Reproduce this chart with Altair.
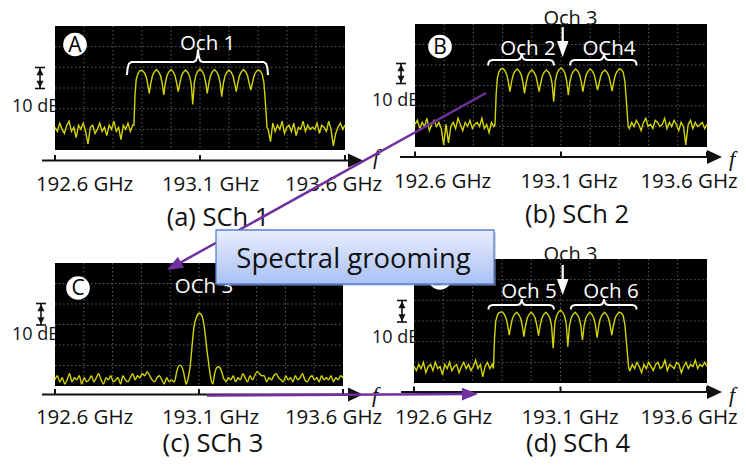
import math
import altair as alt
import pandas as pd
import numpy as np

FONT = "Open Sans"
OFF = 8            # page margin: layout numbers below are page (screenshot) pixels
W, H = 730, 450

# ------------------------------------------------------------------ data
F_MIN, F_MAX = 192.6, 193.6
DB_MIN, DB_MAX = 0.0, 60.0
TICK_F = [192.6, 193.1, 193.6]
TICK_LABELS = ["192.6 GHz", "193.1 GHz", "193.6 GHz"]
GRID_F = [192.7, 192.8, 192.9, 193.0, 193.1, 193.2, 193.3, 193.4, 193.5]
GRID_DB = [10, 20, 30, 40, 50]

PEAK_F = [192.90, 192.95, 193.00, 193.05, 193.10, 193.15, 193.20, 193.25, 193.30]
DIP_F = [192.925, 192.975, 193.025, 193.075, 193.125, 193.175, 193.225, 193.275]
LOBE_OFF = [-0.0195, -0.014, -0.008, 0.008, 0.014, 0.0195]
LOBE_DROP = [6.5, 3.0, 1.2, 1.2, 3.0, 6.5]

# (a) SCh 1
A_NOISE_L = [11, 9, 13, 10, 8, 12, 14, 9, 11, 6, 12, 10, 13, 9, 3, 11, 12, 8, 10, 13, 9, 11, 7, 12, 10, 14, 9, 11, 5, 12, 10, 13, 9, 12]
A_SPAN_L = (192.600, 192.868)
A_EDGE_L_F = [192.872, 192.876, 192.880, 192.886, 192.892]
A_EDGE_L_DB = [12, 27, 34, 37, 38.3]
A_PEAK = [38.6, 38.9, 38.9, 38.7, 39.2, 38.9, 38.7, 38.9, 38.8]
A_DIP = [27.4, 26.6, 28.2, 22.1, 27.4, 25.8, 28.2, 29.0]
A_EDGE_R_F = [193.308, 193.314, 193.320, 193.325, 193.331]
A_EDGE_R_DB = [38.2, 36.8, 33, 24, 11]
A_NOISE_R = [10, 4, 13, 9, 12, 10, 14, 8, 11, 12, 9, 13, 7, 11, 10, 14, 9, 12, 10, 11, 10, 13, 8, 12, 11, 9, 14, 10, 2, 8, 11, 13, 10, 12]
A_SPAN_R = (193.335, 193.600)

# (b) SCh 2
B_NOISE_L = [11, 13, 9, 12, 10, 14, 8, 11, 13, 10, 12, 9, 1, 11, 2, 10, 12, 9, 14, 11, 8, 12, 10, 13, 9, 11, 12, 10, 14, 9, 11, 7, 12, 10]
B_SPAN_L = (192.600, 192.870)
B_EDGE_L_F = [192.874, 192.878, 192.882, 192.887, 192.893]
B_EDGE_L_DB = [11, 26, 33.5, 36.6, 37.9]
B_PEAK = [38.4, 38.1, 37.6, 37.6, 38.7, 38.1, 38.1, 37.6, 38.1]
B_DIP = [27.0, 26.2, 27.0, 22.1, 25.4, 27.0, 27.8, 27.3]
B_EDGE_R_F = [193.307, 193.313, 193.319, 193.324, 193.330]
B_EDGE_R_DB = [37.6, 36.5, 32, 22, 10]
B_NOISE_R = [9, 12, 10, 13, 11, 8, 12, 14, 10, 11, 9, 13, 12, 10, 11, 14, 9, 12, 10, 13, 11, 8, 12, 10, 1, 11, 13, 9, 12, 10, 11, 12, 9, 11]
B_SPAN_R = (193.334, 193.600)

# (c) SCh 3
C_NOISE_L = [3, 5, 2, 4, 1, 3, 6, 2, 4, 3, 5, 1, 4, 2, 3, 5, 2, 4, 6, 3, 1, 4, 3, 5, 2, 3, 4, 1, 5, 3, 2, 4, 6, 3, 5, 4, 6, 5, 7, 5, 3, 2, 4, 5, 3, 1, 4, 2, 3, 2]
C_SPAN_L = (192.600, 193.013)
C_SIG_F = [193.017, 193.022, 193.028, 193.034, 193.040, 193.046, 193.051, 193.055,
           193.059, 193.064, 193.069, 193.075, 193.080, 193.085, 193.090, 193.096, 193.101,
           193.107, 193.113, 193.117, 193.121, 193.128, 193.135, 193.140, 193.144,
           193.148, 193.153, 193.159, 193.166, 193.173, 193.180, 193.186, 193.190]
C_SIG_DB = [3, 6.5, 9.3, 10.2, 9.5, 7, 3.5, 1,
            2, 5, 9.4, 18, 25.7, 30.5, 33, 35, 35.5,
            35, 33, 30, 25.7, 17, 9.4, 4.5, 2,
            1, 5, 8.3, 9.4, 8.8, 6.5, 3.5, 3]
C_NOISE_R = [2, 4, 3, 5, 2, 4, 3, 6, 4, 2, 5, 3, 5, 7, 6, 5, 5, 2, 4, 3, 5, 6, 4, 3, 2, 5, 3, 4, 2, 5, 3, 4, 6, 3, 2, 4, 5, 3, 4, 2, 5, 3, 4, 3, 5, 2, 4, 3, 5, 4]
C_SPAN_R = (193.194, 193.600)

# (d) SCh 4
D_NOISE_L = [8, 6, 9, 7, 10, 5, 8, 9, 6, 10, 7, 8, 4, 9, 7, 10, 6, 8, 9, 5, 8, 10, 7, 9, 6, 8, 11, 7, 9, 3, 8, 10, 7, 9]
D_SPAN_L = (192.600, 192.867)
D_EDGE_L_F = [192.871, 192.875, 192.879, 192.885, 192.891]
D_EDGE_L_DB = [7, 22, 30, 33, 34.1]
D_PEAK = [34.5, 34.2, 34.2, 34.2, 35.3, 34.2, 34.2, 34.2, 34.2]
D_DIP = [23.2, 22.4, 22.9, 16.8, 17.6, 20.8, 21.9, 23.2]
D_EDGE_R_F = [193.308, 193.314, 193.320, 193.326, 193.333]
D_EDGE_R_DB = [33.8, 32.5, 28, 18, 7]
D_NOISE_R = [6, 9, 7, 10, 8, 5, 9, 7, 10, 8, 6, 9, 10, 7, 8, 11, 6, 9, 8, 7, 10, 9, 5, 8, 10, 7, 9, 8, 11, 7, 9, 8, 10, 8]
D_SPAN_R = (193.337, 193.600)

TITLES = ["(a) SCh 1", "(b) SCh 2", "(c) SCh 3", "(d) SCh 4"]
BADGE_TEXT = ["A", "B", "C", "D"]
IN_LABELS = ["Och 1", "Och 2", "OCh4", "OCh 3", "Och 5", "Och 6"]
TOP_LABELS = ["Och 3", "Och 3"]
SCALE_TEXT = "10 dB"
BOX_TEXT = "Spectral grooming"

# ------------------------------------------------------------------ layout (page px)
PANELS = {
    "A": dict(rect=(55, 26, 345, 150), ay=160.5, ax0=42, tip=363, lab_x=[84.5, 210.5, 333.5], lab_y=190.5,
              title=(218, 226), f=(376, 163.5), tendb=(12, 112), icon=(40, 67.5, 88.5), badge=(75, 44.5)),
    "B": dict(rect=(415, 24, 707, 147), ay=157, ax0=400, tip=722, lab_x=[442.5, 569, 689], lab_y=187.5,
              title=(577, 223), f=(732, 166), tendb=(372, 106), icon=(401, 63.5, 83.5), badge=(440, 46.5)),
    "C": dict(rect=(55, 263, 343, 386), ay=394.5, ax0=42, tip=363, lab_x=[84.5, 210.5, 333.5], lab_y=424,
              title=(213, 451.5), f=(375, 402), tendb=(12, 340), icon=(41, 303.5, 325), badge=(78, 288)),
    "D": dict(rect=(414, 259, 707, 383), ay=392, ax0=401, tip=722, lab_x=[443.5, 570, 689], lab_y=423.5,
              title=(578, 451.5), f=(732, 402), tendb=(372, 343), icon=(402, 300.5, 322), badge=(440, 278)),
}
BRACES = [(127, 268, 198, 62, 75, 49.3), (488, 554, 521.7, 60, 65.5, 53.3), (570, 636.7, 604, 60, 65.5, 53.3),
          (488.3, 554, 521.7, 305, 309.5, 299.3), (570.7, 636.7, 604, 305, 309.5, 299.3)]
IN_LABEL_XY = [(207.6, 50), (528, 55), (609, 55), (204, 293), (529, 298), (611, 298)]
TOP_LABEL_XY = [(570.5, 25), (570.5, 261)]
DOWN_ARROWS = [(562.7, 27, 57), (562.7, 265, 295)]
PURPLE_ARROWS = [((486, 93), (167, 270)), ((207, 395.5), (478, 394))]
BOX = (216, 230, 494, 284)
BOX_TEXT_XY = (353.5, 268)

YEL = "#d4d400"
GRID_C = "#5e5e5e"
PURPLE = "#7030a0"

PX = alt.Scale(domain=[OFF, W + OFF], range=[0, W], nice=False, zero=False)
PY = alt.Scale(domain=[OFF, H + OFF], range=[0, H], nice=False, zero=False)


def pxy():
    return dict(x=alt.X("x:Q", scale=PX, axis=None), y=alt.Y("y:Q", scale=PY, axis=None))


def comb(noise_l, span_l, el_f, el_db, peaks, dips, er_f, er_db, noise_r, span_r):
    f = list(np.linspace(span_l[0], span_l[1], len(noise_l)))
    v = list(noise_l)
    f += el_f
    v += el_db
    n = len(PEAK_F)
    for k in range(n):
        for o, d in zip(LOBE_OFF, LOBE_DROP):
            if (o < 0 and k == 0) or (o > 0 and k == n - 1):
                continue
            f.append(PEAK_F[k] + o)
            v.append(peaks[k] - d)
        f.append(PEAK_F[k])
        v.append(peaks[k])
        if k < n - 1:
            f.append(DIP_F[k])
            v.append(dips[k])
    f += er_f
    v += er_db
    f += list(np.linspace(span_r[0], span_r[1], len(noise_r)))
    v += list(noise_r)
    df = pd.DataFrame({"f": f, "db": v}).sort_values("f").reset_index(drop=True)
    df["i"] = range(len(df))
    return df


def single(noise_l, span_l, sf, sdb, noise_r, span_r):
    f = list(np.linspace(span_l[0], span_l[1], len(noise_l))) + sf + list(np.linspace(span_r[0], span_r[1], len(noise_r)))
    v = list(noise_l) + sdb + list(noise_r)
    df = pd.DataFrame({"f": f, "db": v}).sort_values("f").reset_index(drop=True)
    df["i"] = range(len(df))
    return df


TRACES = {
    "A": comb(A_NOISE_L, A_SPAN_L, A_EDGE_L_F, A_EDGE_L_DB, A_PEAK, A_DIP, A_EDGE_R_F, A_EDGE_R_DB, A_NOISE_R, A_SPAN_R),
    "B": comb(B_NOISE_L, B_SPAN_L, B_EDGE_L_F, B_EDGE_L_DB, B_PEAK, B_DIP, B_EDGE_R_F, B_EDGE_R_DB, B_NOISE_R, B_SPAN_R),
    "C": single(C_NOISE_L, C_SPAN_L, C_SIG_F, C_SIG_DB, C_NOISE_R, C_SPAN_R),
    "D": comb(D_NOISE_L, D_SPAN_L, D_EDGE_L_F, D_EDGE_L_DB, D_PEAK, D_DIP, D_EDGE_R_F, D_EDGE_R_DB, D_NOISE_R, D_SPAN_R),
}

layers = []
pre = []   # drawn beneath panels

# ---- "10 dB" markers
tend_rows = [(PANELS[p]["tendb"][0], PANELS[p]["tendb"][1], SCALE_TEXT) for p in PANELS]
pre.append(alt.Chart(pd.DataFrame(tend_rows, columns=["x", "y", "t"])).mark_text(
    font=FONT, fontSize=18, align="left", baseline="alphabetic", color="#111").encode(**pxy(), text="t:N"))
seg = []
tri_up, tri_dn = [], []
for p in PANELS:
    x, t, b = PANELS[p]["icon"]
    seg += [(x - 5, t, x + 5, t), (x - 5, b, x + 5, b), (x, t, x, b)]
    tri_up.append((x, t + 4.2))
    tri_dn.append((x, b - 4.2))
pre.append(alt.Chart(pd.DataFrame(seg, columns=["x", "y", "x2", "y2"])).mark_rule(
    color="#111", strokeWidth=1.6).encode(**pxy(), x2="x2:Q", y2="y2:Q"))
pre.append(alt.Chart(pd.DataFrame(tri_up, columns=["x", "y"])).mark_point(
    shape="M0,-1L1,1L-1,1Z", size=50, filled=True, opacity=1, color="#111", strokeWidth=0).encode(**pxy()))
pre.append(alt.Chart(pd.DataFrame(tri_dn, columns=["x", "y"])).mark_point(
    shape="M0,1L1,-1L-1,-1Z", size=50, filled=True, opacity=1, color="#111", strokeWidth=0).encode(**pxy()))
layers += pre

# ---- panels
for p, L in PANELS.items():
    x0, y0, x1, y1 = L["rect"]
    xs = alt.Scale(domain=[F_MIN, F_MAX], range=[x0 - OFF, x1 - OFF], nice=False, zero=False)
    ys = alt.Scale(domain=[DB_MIN, DB_MAX], range=[y1 - OFF, y0 - OFF], nice=False, zero=False)
    bg = pd.DataFrame({"f0": [F_MIN], "f1": [F_MAX], "d0": [DB_MIN], "d1": [DB_MAX]})
    layers.append(alt.Chart(bg).mark_rect(color="black").encode(
        x=alt.X("f0:Q", scale=xs, axis=None), x2="f1:Q", y=alt.Y("d0:Q", scale=ys, axis=None), y2="d1:Q"))
    layers.append(alt.Chart(pd.DataFrame({"f": GRID_F})).mark_rule(
        color=GRID_C, strokeWidth=1, strokeDash=[1.5, 2.5]).encode(
        x=alt.X("f:Q", scale=xs, axis=None), y=alt.value(y0 - OFF), y2=alt.value(y1 - OFF)))
    layers.append(alt.Chart(pd.DataFrame({"d": GRID_DB})).mark_rule(
        color=GRID_C, strokeWidth=1, strokeDash=[1.5, 2.5]).encode(
        y=alt.Y("d:Q", scale=ys, axis=None), x=alt.value(x0 - OFF), x2=alt.value(x1 - OFF)))
    layers.append(alt.Chart(TRACES[p]).mark_line(
        color=YEL, strokeWidth=1.4, interpolate="monotone" if p == "C" else "linear").encode(
        x=alt.X("f:Q", scale=xs, axis=None), y=alt.Y("db:Q", scale=ys, axis=None), order="i:Q"))
    # ticks on the frequency axis
    ay = L["ay"]
    layers.append(alt.Chart(pd.DataFrame({"f": TICK_F})).mark_rule(color="#111", strokeWidth=2).encode(
        x=alt.X("f:Q", scale=xs, axis=None), y=alt.value(ay - OFF - 5.5), y2=alt.value(ay - OFF)))

# ---- braces (white)
brows = []
for g, (x0, x1, xm, yl, ye, yc) in enumerate(BRACES):
    h = yl - yc
    e = ye - yl
    pts = [(x0, ye), (x0 + 0.6, yl + e * 0.45), (x0 + 2, yl + e * 0.12), (x0 + 4.5, yl),
           (xm - 4.5, yl), (xm - 2, yl - h * 0.12), (xm - 0.6, yl - h * 0.5), (xm, yc),
           (xm + 0.6, yl - h * 0.5), (xm + 2, yl - h * 0.12), (xm + 4.5, yl),
           (x1 - 4.5, yl), (x1 - 2, yl + e * 0.12), (x1 - 0.6, yl + e * 0.45), (x1, ye)]
    for i, (x, y) in enumerate(pts):
        brows.append((g, i, x, y))
layers.append(alt.Chart(pd.DataFrame(brows, columns=["g", "i", "x", "y"])).mark_line(
    color="white", strokeWidth=2).encode(**pxy(), detail="g:N", order="i:Q"))

# ---- white labels inside the panels
inl = [(x, y, t) for (x, y), t in zip(IN_LABEL_XY, IN_LABELS)]
layers.append(alt.Chart(pd.DataFrame(inl, columns=["x", "y", "t"])).mark_text(
    font=FONT, fontSize=20.5, color="white", align="center", baseline="alphabetic").encode(**pxy(), text="t:N"))
# "Och 3" above (black)
top = [(x, y, t) for (x, y), t in zip(TOP_LABEL_XY, TOP_LABELS)]
layers.append(alt.Chart(pd.DataFrame(top, columns=["x", "y", "t"])).mark_text(
    font=FONT, fontSize=20, color="#111", align="center", baseline="alphabetic").encode(**pxy(), text="t:N"))
# white down arrows
stems = [(x, a, x, b - 10) for x, a, b in DOWN_ARROWS]
layers.append(alt.Chart(pd.DataFrame(stems, columns=["x", "y", "x2", "y2"])).mark_rule(
    color="white", strokeWidth=2.2).encode(**pxy(), x2="x2:Q", y2="y2:Q"))
heads = [(x, b - 8) for x, a, b in DOWN_ARROWS]
layers.append(alt.Chart(pd.DataFrame(heads, columns=["x", "y"])).mark_point(
    shape="M-0.72,-1L0.72,-1L0,1Z", size=256, filled=True, opacity=1, color="white", strokeWidth=0).encode(**pxy()))

# ---- badges
bd = [(PANELS[p]["badge"][0], PANELS[p]["badge"][1], t) for p, t in zip(PANELS, BADGE_TEXT)]
bdf = pd.DataFrame(bd, columns=["x", "y", "t"])
layers.append(alt.Chart(bdf).mark_point(shape="circle", size=560, filled=True, opacity=1,
                                        color="white", strokeWidth=0).encode(**pxy()))
layers.append(alt.Chart(bdf).mark_text(font=FONT, fontSize=21, color="black", align="center",
                                       baseline="middle", dy=1).encode(**pxy(), text="t:N"))

# ---- frequency axes
ax = [(L["ax0"], L["ay"], L["tip"] - 8, L["ay"]) for L in PANELS.values()]
layers.append(alt.Chart(pd.DataFrame(ax, columns=["x", "y", "x2", "y2"])).mark_rule(
    color="#111", strokeWidth=2).encode(**pxy(), x2="x2:Q", y2="y2:Q"))
ah = [(L["tip"] - 7.5, L["ay"]) for L in PANELS.values()]
layers.append(alt.Chart(pd.DataFrame(ah, columns=["x", "y"])).mark_point(
    shape="M1,0L-1,-0.93L-1,0.93Z", size=225, filled=True, opacity=1, color="#111", strokeWidth=0).encode(**pxy()))
labs = []
for L in PANELS.values():
    for x, t in zip(L["lab_x"], TICK_LABELS):
        labs.append((x, L["lab_y"], t))
layers.append(alt.Chart(pd.DataFrame(labs, columns=["x", "y", "t"])).mark_text(
    font=FONT, fontSize=20.5, color="#111", align="center", baseline="alphabetic").encode(**pxy(), text="t:N"))
fl = [(L["f"][0], L["f"][1], "f") for L in PANELS.values()]
layers.append(alt.Chart(pd.DataFrame(fl, columns=["x", "y", "t"])).mark_text(
    font="Liberation Serif", fontSize=22, fontStyle="italic", color="#111", align="center",
    baseline="alphabetic").encode(**pxy(), text="t:N"))
tl = [(L["title"][0], L["title"][1], t) for L, t in zip(PANELS.values(), TITLES)]
layers.append(alt.Chart(pd.DataFrame(tl, columns=["x", "y", "t"])).mark_text(
    font=FONT, fontSize=25.5, color="#111", align="center", baseline="alphabetic").encode(**pxy(), text="t:N"))

# ---- purple arrows
plines, pheads = [], []
for (sx, sy), (tx, ty) in PURPLE_ARROWS:
    dx, dy = tx - sx, ty - sy
    d = math.hypot(dx, dy)
    ux, uy = dx / d, dy / d
    cx, cy = tx - 8 * ux, ty - 8 * uy
    plines.append((sx, sy, cx, cy))
    pheads.append((cx, cy, math.degrees(math.atan2(dy, dx)) % 360))
layers.append(alt.Chart(pd.DataFrame(plines, columns=["x", "y", "x2", "y2"])).mark_rule(
    color=PURPLE, strokeWidth=2.5).encode(**pxy(), x2="x2:Q", y2="y2:Q"))
for cx, cy, ang in pheads:
    layers.append(alt.Chart(pd.DataFrame([(cx, cy)], columns=["x", "y"])).mark_point(
        shape="M1,0L-1,-0.8L-1,0.8Z", size=256, filled=True, opacity=1, color=PURPLE, strokeWidth=0,
        angle=ang).encode(**pxy()))

# ---- "Spectral grooming" box
bx0, by0, bx1, by1 = BOX
layers.append(alt.Chart(pd.DataFrame([(bx0 + 2, by0 + 2, bx1 + 2, by1 + 2)], columns=["x", "y", "x2", "y2"])).mark_rect(
    color="#9aa6bf", opacity=0.45).encode(**pxy(), x2="x2:Q", y2="y2:Q"))
layers.append(alt.Chart(pd.DataFrame([(bx0, by0, bx1, by1)], columns=["x", "y", "x2", "y2"])).mark_rect(
    fill=alt.Gradient(gradient="linear",
                      stops=[alt.GradientStop(color="#e8eefd", offset=0),
                             alt.GradientStop(color="#c9d7f9", offset=0.5),
                             alt.GradientStop(color="#a9c1f4", offset=1)],
                      x1=0, x2=0, y1=0, y2=1),
    stroke="#5b7fd1", strokeWidth=1.3).encode(**pxy(), x2="x2:Q", y2="y2:Q"))
layers.append(alt.Chart(pd.DataFrame([(BOX_TEXT_XY[0], BOX_TEXT_XY[1], BOX_TEXT)], columns=["x", "y", "t"])).mark_text(
    font=FONT, fontSize=27.5, color="#111", align="center", baseline="alphabetic").encode(**pxy(), text="t:N"))

chart = alt.layer(*layers).resolve_scale(x="independent", y="independent").properties(
    width=W, height=H, padding=0, autosize=alt.AutoSizeParams(type="none"), background="white"
).configure_view(stroke=None)

chart.save("out.html", embed_options={"renderer": "svg", "actions": False})
